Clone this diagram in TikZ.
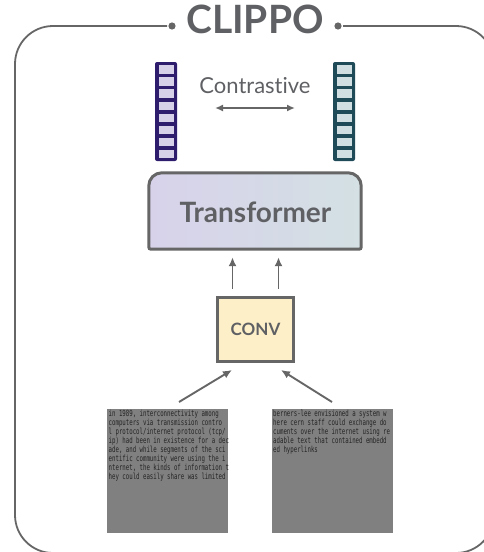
\documentclass[tikz,border=0pt]{standalone}
\usepackage{fontspec}
\setmainfont{Lato}[Ligatures=NoCommon]
\newfontfamily\pagefont{DejaVu Sans Mono}[FakeStretch=0.68]
\usetikzlibrary{arrows.meta}

\definecolor{ink}{HTML}{666666}
\definecolor{label}{HTML}{5F6064}
\definecolor{vioDark}{HTML}{2E1C6C}
\definecolor{vioCell}{HTML}{D6D0E9}
\definecolor{tealDark}{HTML}{1F4A57}
\definecolor{tealCell}{HTML}{D1DEE2}
\definecolor{tfLeft}{HTML}{D7D2EA}
\definecolor{tfRight}{HTML}{D4E0E4}
\definecolor{convFill}{HTML}{FDF0C9}
\definecolor{pageGray}{HTML}{808080}
\definecolor{pageInk}{HTML}{242424}

\tikzset{
  frame/.style={draw=ink, line width=1.8pt},
  arr/.style={draw=ink, line width=1.9pt, -{Latex[length=9pt,width=8pt]}},
  darr/.style={draw=ink, line width=1.9pt, {Latex[length=8pt,width=7pt]}-{Latex[length=8pt,width=7pt]}},
  blockline/.style={draw=ink, line width=3pt},
  pagebox/.style={fill=pageGray, draw=none, anchor=north west, minimum width=121pt,
    minimum height=124pt, inner sep=0pt},
  pagetext/.style={anchor=north west, inner sep=0pt, align=left, text=pageInk,
    font=\pagefont\fontsize{8.4}{9.1}\selectfont},
}

\begin{document}
\begin{tikzpicture}[x=1pt, y=-1pt]
\useasboundingbox (0,0) rectangle (484,552);

% outer frame with the title set into its top edge
\draw[frame, rounded corners=38pt] (167,26) -- (15,26) -- (15,553) -- (494,553) -- (494,26) -- (343,26);
\fill[ink] (172,26) circle (3.6pt) (338,26) circle (3.6pt);
\node[anchor=base, inner sep=0pt, text=label, font=\bfseries\fontsize{39}{39}\selectfont] (title) at (255,33) {CLIPPO};

% embedding vectors
\node[fill=vioDark, rounded corners=2pt, minimum width=22pt, minimum height=99pt, inner sep=0pt] (vecL) at (166,111.5) {};
\node[fill=tealDark, rounded corners=2pt, minimum width=22pt, minimum height=99pt, inner sep=0pt] (vecR) at (344,111.5) {};
\foreach \i in {0,...,7} {
  \fill[vioCell] (158.5,65.2+\i*12.1) rectangle (173.5,73.7+\i*12.1);
  \fill[tealCell] (336.5,65.2+\i*12.1) rectangle (351.5,73.7+\i*12.1);
}

% contrastive objective
\node[anchor=base, inner sep=0pt, text=label, font=\fontsize{22}{22}\selectfont] (contrast) at (255,93) {Contrastive};
\coordinate (cl) at (215,108);
\coordinate (cr) at (295,108);
\draw[darr] (cl) -- (cr);

% transformer block
\node[minimum width=212pt, minimum height=76pt, inner sep=0pt] (tf) at (255,211) {};
\draw[blockline, left color=tfLeft, right color=tfRight]
  (tf.south) [rounded corners=2pt] -- (tf.south west) [rounded corners=13pt] -- (tf.north west) -- (tf.north east) [rounded corners=2pt] -- (tf.south east) -- cycle;
\node[anchor=base, inner sep=0pt, text=label, font=\bfseries\fontsize{28}{28}\selectfont] (tftext) at (255.5,222) {Transformer};

% conv stem
\node[blockline, fill=convFill, minimum width=76pt, minimum height=64pt, inner sep=0pt] (conv) at (255,329) {};
\node[anchor=base, inner sep=0pt, text=label, font=\bfseries\fontsize{17}{17}\selectfont] (convtext) at (255.5,335) {CONV};

\coordinate (u1) at (232.5,0);
\coordinate (u2) at (278.5,0);
\draw[arr, shorten <=7pt, shorten >=8pt] (conv.north -| u1) -- (tf.south -| u1);
\draw[arr, shorten <=7pt, shorten >=8pt] (conv.north -| u2) -- (tf.south -| u2);

% rendered text pages
\node[pagebox] (pageL) at (107,409) {};
\node[pagebox] (pageR) at (272,409) {};
\node[pagetext] (textL) at (108.5,409.5) {in 1989, interconnectivity among\\computers via transmission contro\\l protocol/internet protocol (tcp/\\ip) had been in existence for a dec\\ade, and while segments of the sci\\entific community were using the i\\nternet, the kinds of information t\\hey could easily share was limited};
\node[pagetext] (textR) at (273,409.5) {berners-lee envisioned a system w\\here cern staff could exchange do\\cuments over the internet using re\\adable text that contained embedd\\ed hyperlinks};

% inputs to the conv stem
\coordinate (inL) at (179,402);
\coordinate (tipL) at (232,370);
\coordinate (inR) at (332,402);
\coordinate (tipR) at (281,370);
\draw[arr] (inL) -- (tipL);
\draw[arr] (inR) -- (tipR);
\end{tikzpicture}
\end{document}
